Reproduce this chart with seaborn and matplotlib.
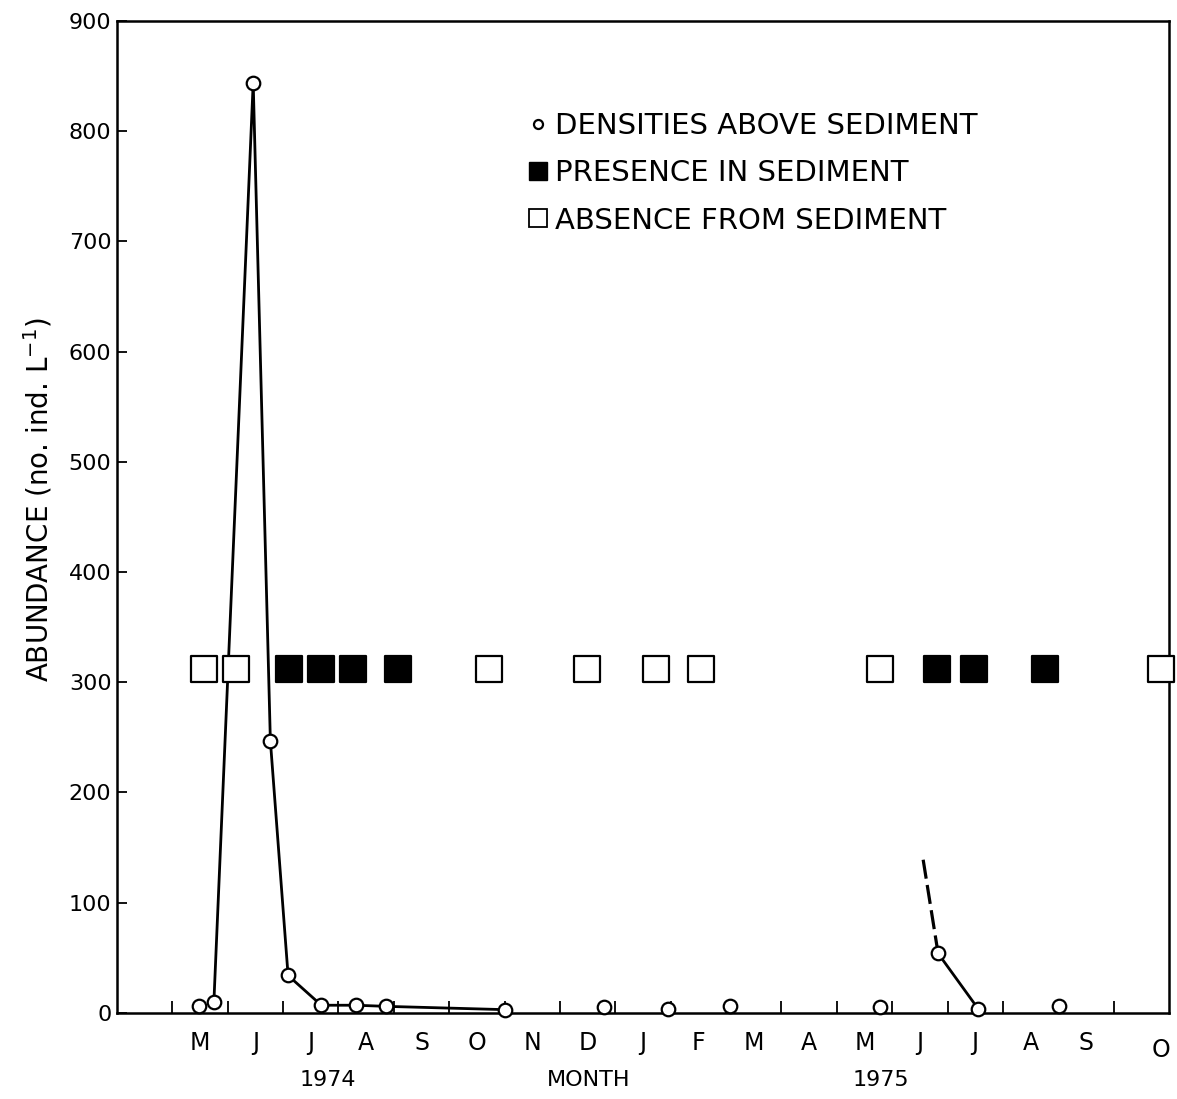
import numpy as np
import pandas as pd
import matplotlib
matplotlib.use("Agg")
import matplotlib.pyplot as plt
from matplotlib.lines import Line2D
import seaborn as sns

# ===== Data (x = months since 1 Apr 1974) =====
density_x = [1.48, 1.75, 2.46, 2.77, 3.09, 3.69, 4.32, 4.85, 7.0,
             8.79, 9.96, 11.07, 13.78, 14.83, 15.55, 17.02]
density_y = [6, 10, 844, 247, 34, 7, 7, 6, 3,
             5, 4, 6, 5, 54, 4, 6]
run_1974 = [1, 2, 3, 4, 5, 6, 7, 8]      # indices joined by the 1974 line
run_1975 = [13, 14]                      # indices joined by the 1975 line
dashed_x = [14.56, 14.83]
dashed_y = [139, 54]

absent_x = [1.57, 2.15, 6.71, 8.48, 9.73, 10.54, 13.78, 18.86]
present_x = [3.11, 3.69, 4.27, 5.08, 14.81, 15.48, 16.76]
sediment_y = 312

month_labels = ["M", "J", "J", "A", "S", "O", "N", "D", "J", "F",
                "M", "A", "M", "J", "J", "A", "S"]
month_bounds = list(range(1, 19))
year_labels = [(3.8, "1974"), (8.52, "MONTH"), (13.8, "1975")]

dens = pd.DataFrame({"x": density_x, "y": density_y})

# ===== Style =====
sns.set_style("ticks", {"text.color": "black", "axes.labelcolor": "black",
                        "xtick.color": "black", "ytick.color": "black",
                        "axes.edgecolor": "black"})
plt.rcParams["font.family"] = ["DejaVu Sans"]

fig = plt.figure(figsize=(11.77, 10.99), dpi=100)
ax = fig.add_axes([0.0994, 0.0783, 0.8938, 0.9027])

# lines
for run in (run_1974, run_1975):
    sub = dens.iloc[run]
    sns.lineplot(data=sub, x="x", y="y", sort=False, color="black",
                 linewidth=2.0, ax=ax, zorder=2)
ax.plot(dashed_x, dashed_y, color="black", linewidth=2.3,
        linestyle=(0, (6, 2)), zorder=2)

# density circles
sns.scatterplot(data=dens, x="x", y="y", marker="o", s=95, color="white",
                edgecolor="black", linewidth=1.6, ax=ax, zorder=4, clip_on=False)

# sediment squares
sns.scatterplot(x=absent_x, y=[sediment_y] * len(absent_x), marker="s", s=330,
                color="white", edgecolor="black", linewidth=1.6, ax=ax,
                zorder=3, clip_on=False)
sns.scatterplot(x=present_x, y=[sediment_y] * len(present_x), marker="s", s=330,
                color="black", edgecolor="black", linewidth=1.6, ax=ax,
                zorder=3, clip_on=False)

# ===== Axes =====
ax.set_xlim(0, 19)
ax.set_ylim(0, 900)
ax.set_yticks(range(0, 901, 100))
ax.tick_params(axis="y", direction="in", length=7, width=1.3, labelsize=16, pad=4)
ax.set_xticks(month_bounds)
ax.set_xticklabels([])
ax.set_xticks([b + 0.5 for b in month_bounds[:-1]], minor=True)
ax.set_xticklabels(month_labels, minor=True)
ax.tick_params(axis="x", which="major", direction="in", length=9, width=1.3)
ax.tick_params(axis="x", which="minor", length=0, labelsize=17, pad=13)
ax.text(18.85, -0.037, "O", transform=ax.get_xaxis_transform(), ha="center",
        va="center", fontsize=17)
for xp, txt in year_labels:
    ax.text(xp, -0.068, txt, transform=ax.get_xaxis_transform(), ha="center",
            va="center", fontsize=16)

ax.set_xlabel("")
ax.set_ylabel("ABUNDANCE (no. ind. L$^{-1}$)", fontsize=20)
ax.yaxis.set_label_coords(-0.059, 0.517)
for sp in ax.spines.values():
    sp.set_linewidth(1.8)

# ===== Legend =====
handles = [
    Line2D([], [], marker="o", linestyle="none", markersize=6.5,
           markerfacecolor="white", markeredgecolor="black", markeredgewidth=1.6),
    Line2D([], [], marker="s", linestyle="none", markersize=13,
           markerfacecolor="black", markeredgecolor="black"),
    Line2D([], [], marker="s", linestyle="none", markersize=13,
           markerfacecolor="white", markeredgecolor="black", markeredgewidth=1.3),
]
labels = ["DENSITIES ABOVE SEDIMENT", "PRESENCE IN SEDIMENT", "ABSENCE FROM SEDIMENT"]
ax.legend(handles, labels, loc="upper left", bbox_to_anchor=(0.389, 0.908),
          frameon=False, fontsize=21, handlelength=0.8, handletextpad=0.18,
          labelspacing=0.66, borderpad=0, borderaxespad=0)

fig.savefig("out.png", dpi=100)
